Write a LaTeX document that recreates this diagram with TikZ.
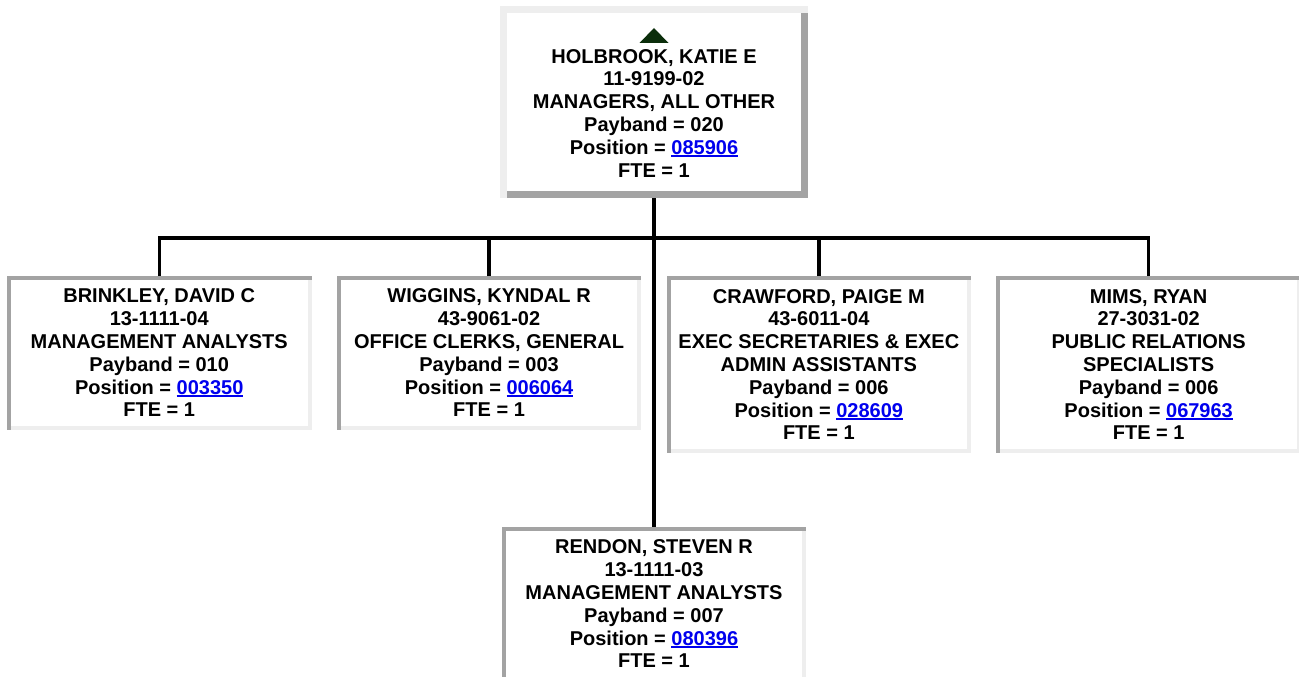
\documentclass[tikz,border=0pt]{standalone}
\usepackage{fontspec}
\setmainfont{Liberation Sans}
\usetikzlibrary{positioning}
\definecolor{lightedge}{HTML}{EEEEEE}
\definecolor{darkedge}{HTML}{A3A3A3}
\definecolor{linkblue}{HTML}{0000EE}
\definecolor{markgreen}{HTML}{0B2E0B}
\newcommand\cardfont{\fontsize{20}{22.8}\selectfont\bfseries}
\newcommand\poslink[1]{{\color{linkblue}\setbox0\hbox{#1}\rlap{\rule[-3pt]{\wd0}{1.8pt}}\box0}}

\begin{document}
\begin{tikzpicture}[x=1pt, y=-1pt,
        card/.style={fill=white, align=center, font=\cardfont, inner sep=0pt},
        inset/.style={card, draw=lightedge, line width=4pt, minimum width=300.5pt, minimum height=150pt, anchor=north west},
        tallinset/.style={inset, minimum height=173pt},
        outset/.style={card, draw=darkedge, line width=7pt, minimum width=301pt, minimum height=185pt},
        wire/.style={draw, line width=3.5pt}]

        \useasboundingbox (0,0) rectangle (1299,677);
        \clip (0,0) rectangle (1299,677);

        \node [outset] (holbrook) at (654,102) {\rule{0pt}{36pt}HOLBROOK, KATIE E\\11-9199-02\\MANAGERS, ALL OTHER\\Payband = 020\\Position = \poslink{085906}\\FTE = 1};
        \node [inset] (brinkley) at (7,276) {BRINKLEY, DAVID C\\13-1111-04\\MANAGEMENT ANALYSTS\\Payband = 010\\Position = \poslink{003350}\\FTE = 1};
        \node [inset, right=25.3pt of brinkley.north east, anchor=north west] (wiggins) {WIGGINS, KYNDAL R\\43-9061-02\\OFFICE CLERKS, GENERAL\\Payband = 003\\Position = \poslink{006064}\\FTE = 1};
        \node [tallinset, right=25.3pt of wiggins.north east, anchor=north west] (crawford) {CRAWFORD, PAIGE M\\43-6011-04\\EXEC SECRETARIES \& EXEC\\ADMIN ASSISTANTS\\Payband = 006\\Position = \poslink{028609}\\FTE = 1};
        \node [tallinset, right=25.3pt of crawford.north east, anchor=north west] (mims) {MIMS, RYAN\\27-3031-02\\PUBLIC RELATIONS\\SPECIALISTS\\Payband = 006\\Position = \poslink{067963}\\FTE = 1};
        \node [inset, below=329pt of holbrook] (rendon) {RENDON, STEVEN R\\13-1111-03\\MANAGEMENT ANALYSTS\\Payband = 007\\Position = \poslink{080396}\\FTE = 1};

        \draw [lightedge, line width=7pt, line cap=rect] ([shift={(3.5pt,3.5pt)}]holbrook.south west) |- ([shift={(-3.5pt,-3.5pt)}]holbrook.north east);
        \foreach \n in {brinkley,wiggins,crawford,mims,rendon}
            \draw [darkedge, line width=4pt, line cap=rect] ([shift={(2pt,2pt)}]\n.south west) |- ([shift={(-2pt,-2pt)}]\n.north east);
        \fill [markgreen] ([yshift=-37pt]holbrook.north) ++(-14.5pt,0) -- ++(29pt,0) -- ++(-14.5pt,15pt) -- cycle;

        \coordinate (bus) at ([yshift=38pt]brinkley.north);
        \path [wire] (holbrook.south) -- (rendon.north);
        \path [wire] (brinkley.north) -- (bus) -| (mims.north);
        \foreach \n in {wiggins,crawford}
            \path [wire] (\n.north) -- (\n.north |- bus);

    \end{tikzpicture}
\end{document}
